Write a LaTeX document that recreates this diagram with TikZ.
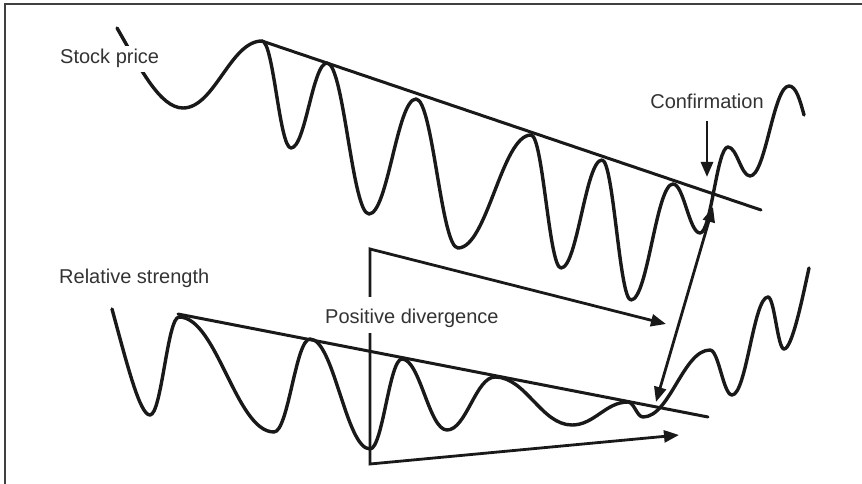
\documentclass[tikz,border=0pt]{standalone}
\usepackage{fontspec}
\setmainfont{Liberation Sans}
\usetikzlibrary{arrows.meta,calc}

\tikzset{
  wave/.style={line width=3.4pt,black!90,line join=round,line cap=round},
  trend/.style={line width=3pt,black!90,line cap=round},
  arr/.style={line width=2.8pt,black!90},
  lbl/.style={font=\fontsize{20}{24}\selectfont,text=black!80,inner sep=0pt},
  swing/.style={to path={.. controls ($(\tikztostart)!#1!(\tikztotarget |- \tikztostart)$) and ($(\tikztotarget)!#1!(\tikztostart |- \tikztotarget)$) .. (\tikztotarget)}},
  swing/.default=.4
}

\begin{document}
\begin{tikzpicture}[x=1pt,y=-1pt,>={Triangle[length=15pt,width=12pt]}]
\useasboundingbox (0,0) rectangle (862,484);
\draw[line width=2pt,black!75] (5,484) -- (5,4.5) -- (862,4.5);

% stock price
\draw[wave] (117,28) .. controls (140,68) and (160,108) .. (183,108) to[swing] (262,41) to[swing] (291,148) to[swing] (327,63) to[swing] (369,214) to[swing] (416,99) to[swing] (458,248) to[swing] (531,135) to[swing] (561,268) to[swing] (602,160) to[swing] (631,300) to[swing] (673,184) to[swing] (700,233) to[swing] (728,147) to[swing] (750,176) to[swing] (789,86) .. controls (796,86) and (800,100) .. (804,115);
\draw[trend] (262,41) -- (761,210);
\node[lbl,fill=white,inner xsep=3pt,inner ysep=4pt,anchor=base west] (stock) at (57,64) {Stock price};

% relative strength
\draw[wave] (112,309) .. controls (128,368) and (140,415) .. (150,415) to[swing] (179,317) to[swing] (274,432) to[swing] (310,339) to[swing] (370,449) to[swing] (402,359) to[swing] (447,430) to[swing] (495,377) to[swing] (572,425) to[swing] (628,402) to[swing] (643,417) to[swing] (710,350) to[swing] (732,395) to[swing] (768,297) to[swing] (784,349) .. controls (792,349) and (802,300) .. (809,268);
\draw[trend] (178,314) -- (708,417);
\node[lbl,anchor=base west] (rs) at (59,283) {Relative strength};

% divergence
\coordinate (divtop) at (666,324);
\coordinate (cornertop) at (370,249);
\coordinate (cornerbot) at (370,464);
\coordinate (divbot) at (679,435);
\draw[arr,<->] (divtop) -- (cornertop) -- (cornerbot) -- (divbot);
\node[lbl,fill=white,inner xsep=2pt,text height=26pt,text depth=10pt,anchor=base west] (posdiv) at (323,323) {Positive divergence};

% confirmation
\node[lbl,anchor=base] (confirm) at (707,109) {Confirmation};
\coordinate (conftip) at (707,177);
\draw[arr,->] ([yshift=-12pt]confirm.south) -- (conftip);
\coordinate (uptip) at (713,207);
\coordinate (lowtip) at (656,402);
\draw[arr,<->] (lowtip) -- (uptip);
\end{tikzpicture}
\end{document}
